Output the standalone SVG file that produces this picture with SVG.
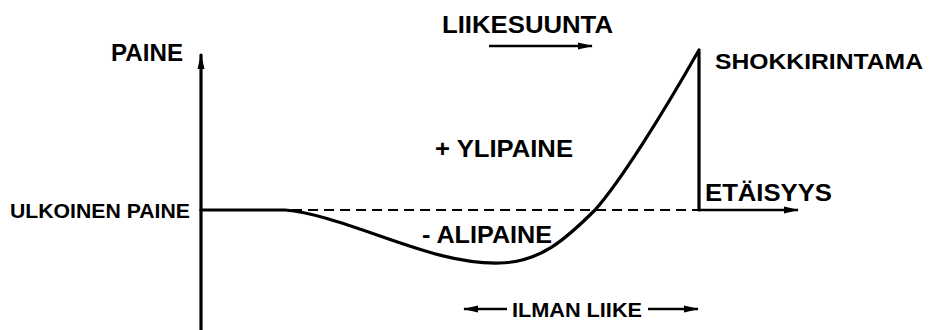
<svg xmlns="http://www.w3.org/2000/svg" width="930" height="330" viewBox="0 0 930 330">
<style>
  text { font-family: "Liberation Sans", Arial, sans-serif; font-weight: bold; fill: #000; }
  .ln { stroke: #000; stroke-width: 3.2; fill: none; stroke-linecap: round; stroke-linejoin: round; }
  .thin { stroke: #000; stroke-width: 2.5; fill: none; }
  .dash { stroke: #000; stroke-width: 2.2; fill: none; stroke-dasharray: 10 6; }
  .head { fill: #000; stroke: none; }
</style>
<defs>
  <marker id="ah" viewBox="0 0 15 10" refX="14" refY="5" markerWidth="15" markerHeight="10" markerUnits="userSpaceOnUse" orient="auto">
    <path d="M0,1.5 L15,5 L0,8.5 Z" class="head"/>
  </marker>
</defs>
<rect width="930" height="330" fill="#fff"/>
<g id="connectors">
  <line class="ln" x1="201" y1="330" x2="201" y2="55" marker-end="url(#ah)"/>
  <line class="dash" x1="292" y1="210" x2="698" y2="210"/>
  <line class="thin" x1="699" y1="210" x2="798" y2="210" marker-end="url(#ah)"/>
  <line class="thin" x1="489" y1="46" x2="592" y2="46" marker-end="url(#ah)"/>
  <line class="thin" x1="507" y1="309" x2="464" y2="309" marker-end="url(#ah)"/>
  <line class="thin" x1="648" y1="309" x2="698" y2="309" marker-end="url(#ah)"/>
  <line class="ln" x1="699" y1="52" x2="699" y2="210"/>
  <path class="ln" d="M201,210 H285 C310,212 340,222 380,236 C420,250 460,264 500,263 C540,262 565,240 595,210 C620,182 662,115 699,50"/>
</g>
<g id="label-paine"><text x="111" y="61" font-size="24" textLength="72" lengthAdjust="spacingAndGlyphs">PAINE</text></g>
<g id="label-liikesuunta"><text x="442" y="33" font-size="24" textLength="171" lengthAdjust="spacingAndGlyphs">LIIKESUUNTA</text></g>
<g id="label-shokkirintama"><text x="715" y="69" font-size="22" textLength="208" lengthAdjust="spacingAndGlyphs">SHOKKIRINTAMA</text></g>
<g id="label-ulkoinen"><text x="10" y="218" font-size="21" textLength="180" lengthAdjust="spacingAndGlyphs">ULKOINEN PAINE</text></g>
<g id="label-etaisyys"><text x="705" y="201" font-size="24" textLength="127" lengthAdjust="spacingAndGlyphs">ETÄISYYS</text></g>
<g id="label-ylipaine"><text x="435" y="157" font-size="24" textLength="138" lengthAdjust="spacingAndGlyphs">+ YLIPAINE</text></g>
<g id="label-alipaine"><text x="422" y="243" font-size="23" textLength="130" lengthAdjust="spacingAndGlyphs">- ALIPAINE</text></g>
<g id="label-ilman"><text x="512" y="317" font-size="21" textLength="130" lengthAdjust="spacingAndGlyphs">ILMAN LIIKE</text></g>
</svg>
